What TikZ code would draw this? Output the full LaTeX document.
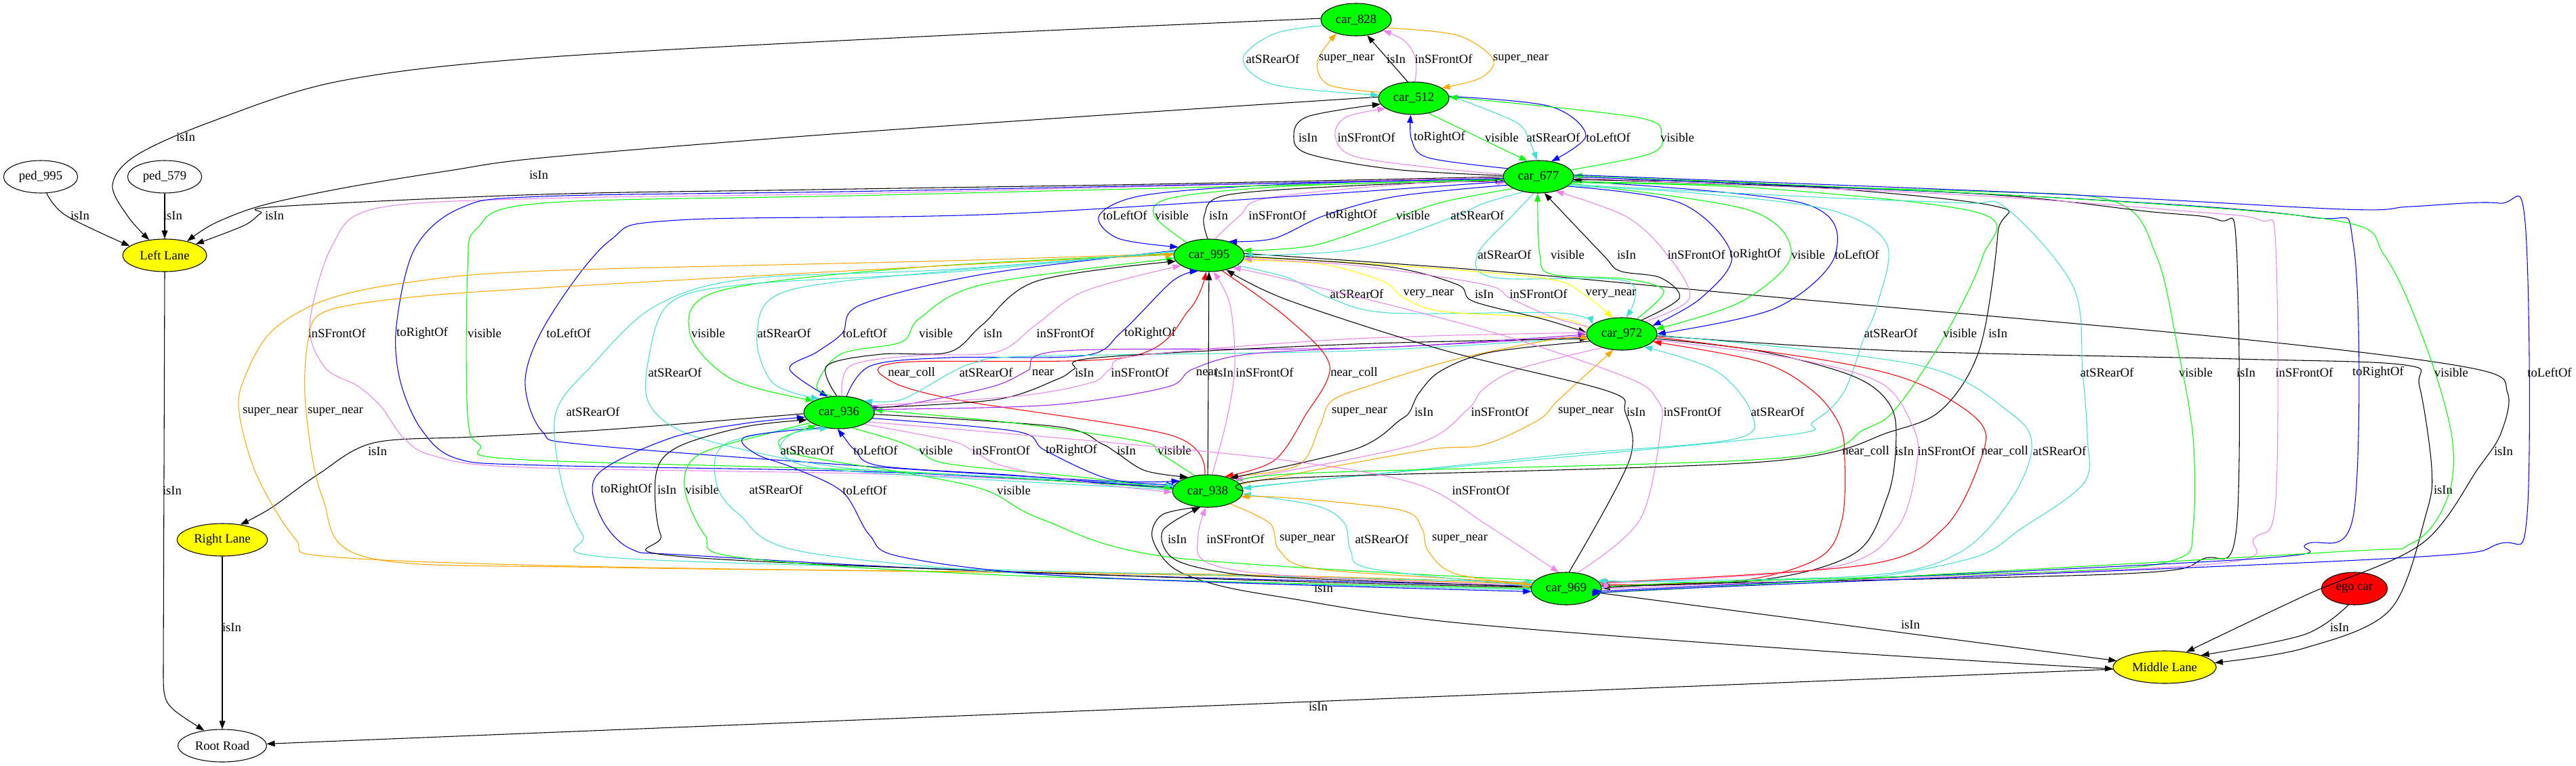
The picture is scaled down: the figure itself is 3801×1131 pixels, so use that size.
\documentclass[tikz,border=0pt]{standalone}
\usepackage{fontspec}
\setmainfont{Liberation Serif}
\usetikzlibrary{shapes.geometric,arrows.meta}
\definecolor{gvgreen}{HTML}{00FF00}
\definecolor{gvturq}{HTML}{40E0D0}
\definecolor{gvviolet}{HTML}{EE82EE}
\definecolor{gvorange}{HTML}{FFA500}
\definecolor{gvblue}{HTML}{0000FF}
\definecolor{gvred}{HTML}{FF0000}
\definecolor{gvyellow}{HTML}{FFFF00}
\definecolor{gvpurple}{HTML}{A020F0}
\newcommand\gedge[5]{\draw[ed,#1] plot coordinates {#2};\node[lbl] (#3) at (#4) {#5};}
\begin{document}
\begin{tikzpicture}[x=0.75pt,y=-0.75pt,
  every node/.style={font=\fontsize{14pt}{16pt}\selectfont},
  ed/.style={line width=0.8pt,-{Triangle[length=9pt,width=6.5pt]},smooth,tension=0.55},
  lbl/.style={inner sep=0pt},
  nd/.style={ellipse,draw,line width=0.8pt,minimum height=36pt,inner sep=0pt},
  car/.style={nd,fill=gvgreen,minimum width=78pt},
  lane/.style={nd,fill=gvyellow},
  plainnd/.style={nd,fill=white}]
\useasboundingbox (0,0) rectangle (3801,1131);
% nodes
\node[car] (n828) at (2001,29) {car\_828};
\node[car] (n512) at (2086,145) {car\_512};
\node[car] (n677) at (2270,261) {car\_677};
\node[car] (n995) at (1784,377) {car\_995};
\node[car] (n972) at (2393,493) {car\_972};
\node[car] (n936) at (1238,609) {car\_936};
\node[car] (n938) at (1782,725) {car\_938};
\node[car] (n969) at (2311,869) {car\_969};
\node[nd,fill=gvred,minimum width=73pt] (ego) at (3474,869) {ego car};
\node[lane,minimum width=114pt] (ML) at (3194,985) {Middle Lane};
\node[lane,minimum width=93pt] (LL) at (243,377) {Left Lane};
\node[lane,minimum width=100pt] (RL) at (328,797) {Right Lane};
\node[plainnd,minimum width=98pt] (RR) at (328,1101) {Root Road};
\node[plainnd,minimum width=82pt] (p995) at (60,261) {ped\_995};
\node[plainnd,minimum width=82pt] (p579) at (243,261) {ped\_579};
% lane membership
\gedge{black}{(p995.-70) (97,318) (LL.165)}{l1}{118,318}{isIn}
\draw[ed] (p579) -- (LL); \node[lbl] (l2) at (255,318) {isIn};
\gedge{black}{(n828.178) (1400,52) (800,85) (500,120) (311,180) (200,230) (166,273) (189,320) (LL.135)}{l3}{274,202}{isIn}
\gedge{black}{(n512.178) (1700,165) (1200,200) (800,233) (663,252) (510,277) (388,303) (316,330) (LL.32)}{l4}{795,258}{isIn}
\gedge{black}{(n677.180) (1700,272) (1200,280) (800,287) (410,305) (385,315) (360,333) (LL.20)}{l5}{405,318}{isIn}
\draw[ed] (LL.-90) -- (241,990) .. controls (241,1040) .. (RR.140); \node[lbl] (l6) at (254,724) {isIn};
\draw[ed] (RL) -- (RR); \node[lbl] (l7) at (342,926) {isIn};
\gedge{black}{(n936.182) (900,634) (700,645) (551,654) (470,700) (400,750) (RL.40)}{l8}{557,666}{isIn}
\draw[ed] (n969) -- (ML); \node[lbl] (l9) at (2819,922) {isIn};
\gedge{black}{(ego.-110) (3400,937) (ML.18)}{l10}{3452,926}{isIn}
\gedge{black}{(n938.-120) (1715,760) (1700,793) (1729,837) (1793,863) (1900,883) (2155,920) (2700,962) (ML.182)}{l11}{1953,868}{isIn}
\gedge{black}{(n995.3) (2200,400) (2600,437) (3300,500) (3649,544) (3700,580) (3690,640) (3657,691) (3573,803) (3404,878) (ML.35)}{l12}{3694,666}{isIn}
\gedge{black}{(n972.-3) (2800,518) (3300,530) (3549,539) (3570,570) (3588,691) (3580,758) (3527,900) (3400,957) (ML.5)}{l13}{3605,723}{isIn}
\draw[ed] (ML) -- (RR); \node[lbl] (l14) at (1945,1043) {isIn};
% 828 - 512
\draw[ed] (n512.110) -- (n828.-55); \node[lbl] (l15) at (2060,87) {isIn};
\gedge{gvviolet}{(n512.85) (2089,87) (2072,60) (n828.-22)}{l16}{2130,87}{inSFrontOf}
\gedge{gvturq}{(n828.190) (1880,50) (1834,87) (1880,125) (n512.175)}{l17}{1878,87}{atSRearOf}
\gedge{gvorange}{(n512.170) (1960,125) (1944,90) (n828.-145)}{l18}{1987,87}{super\_near}
\gedge{gvorange}{(n828.-15) (2150,52) (2203,87) (2185,115) (n512.20)}{l19}{2244,87}{super\_near}
% 512 - 677
\gedge{black}{(n677.178) (2057,250) (1930,227) (1909,200) (1930,172) (n512.190)}{l20}{1930,203}{isIn}
\gedge{gvviolet}{(n677.176) (2108,247) (1996,230) (1970,200) (1986,173) (n512.200)}{l21}{2016,203}{inSFrontOf}
\gedge{gvblue}{(n677.165) (2108,233) (2083,207) (n512.-100)}{l22}{2124,203}{toRightOf}
\draw[ed,gvgreen] (n512.-45) -- (n677.125); \node[lbl] (l23) at (2216,203) {visible};
\gedge{gvturq}{(n512.5) (2236,180) (2256,207) (n677.95)}{l24}{2292,203}{atSRearOf}
\gedge{gvblue}{(n512.3) (2287,157) (2340,200) (n677.50)}{l25}{2373,203}{toLeftOf}
\gedge{gvgreen}{(n677.12) (2435,227) (2452,200) (2414,173) (n512.2)}{l26}{2475,203}{visible}
% 677 - 995
\gedge{gvblue}{(n677.183) (1900,272) (1690,288) (1622,318) (1650,352) (n995.165)}{l27}{1660,318}{toLeftOf}
\gedge{gvgreen}{(n995.150) (1703,318) (1730,292) (1900,275) (n677.184)}{l28}{1729,318}{visible}
\gedge{black}{(n995.95) (1777,318) (1810,288) (2000,274) (n677.186)}{l29}{1798,318}{isIn}
\gedge{gvviolet}{(n995.70) (1830,318) (1872,292) (2100,270) (n677.190)}{l30}{1885,318}{inSFrontOf}
\gedge{gvblue}{(n677.195) (2060,290) (1955,318) (1880,352) (n995.35)}{l31}{1994,318}{toRightOf}
\gedge{gvgreen}{(n677.205) (2130,298) (2058,322) (1940,362) (n995.8)}{l32}{2085,318}{visible}
\gedge{gvturq}{(n677.225) (2190,300) (2140,322) (2000,368) (n995.0)}{l33}{2180,318}{atSRearOf}
% 677 - 972
\gedge{gvturq}{(n677.-105) (2230,320) (2180,376) (2205,410) (2400,415) (n972.75)}{l34}{2220,376}{atSRearOf}
\gedge{gvgreen}{(n972.45) (2455,430) (2400,412) (2290,405) (2272,376) (n677.-93)}{l35}{2313,376}{visible}
\gedge{black}{(n972.35) (2478,440) (2450,410) (2390,400) (2365,376) (n677.-70)}{l36}{2400,376}{isIn}
\gedge{gvviolet}{(n972.28) (2493,440) (2460,376) (2400,320) (n677.-40)}{l37}{2503,376}{inSFrontOf}
\gedge{gvblue}{(n677.-18) (2480,300) (2555,376) (2510,440) (n972.15)}{l38}{2590,376}{toRightOf}
\gedge{gvgreen}{(n677.-12) (2580,310) (2643,376) (2570,445) (n972.8)}{l39}{2668,376}{visible}
\gedge{gvblue}{(n677.-7) (2660,300) (2708,376) (2620,455) (n972.0)}{l40}{2740,376}{toLeftOf}
% 995 - 972
\gedge{gvturq}{(n995.-20) (1900,410) (1962,440) (2050,462) (2300,462) (n972.162)}{l41}{2002,434}{atSRearOf}
\gedge{gvyellow}{(n972.172) (2300,470) (2130,460) (2072,440) (2040,415) (1950,390) (n995.-8)}{l42}{2108,434}{very\_near}
\gedge{gvyellow}{(n995.-4) (2000,388) (2272,410) (2335,433) (n972.120)}{l43}{2377,434}{very\_near}
\gedge{black}{(n995.-2) (2043,393) (2150,420) (2174,445) (2280,472) (n972.178)}{l44}{2190,434}{isIn}
\gedge{gvviolet}{(n972.168) (2290,468) (2228,440) (2190,420) (2000,392) (n995.-6)}{l45}{2270,434}{inSFrontOf}
% 995 - 936
\gedge{gvgreen}{(n995.178) (1350,395) (1060,430) (1018,492) (1080,560) (n936.155)}{l46}{1045,492}{visible}
\gedge{gvturq}{(n995.176) (1400,400) (1160,430) (1117,492) (1140,565) (n936.145)}{l47}{1157,492}{atSRearOf}
\gedge{gvblue}{(n995.172) (1450,405) (1270,450) (1243,492) (1205,520) (1165,545) (n936.125)}{l48}{1276,492}{toLeftOf}
\gedge{gvgreen}{(n936.112) (1205,570) (1240,523) (1330,505) (1357,470) (1450,420) (n995.185)}{l49}{1381,492}{visible}
\gedge{black}{(n936.98) (1220,540) (1300,523) (1400,520) (1449,480) (1530,415) (n995.190)}{l50}{1465,492}{isIn}
\gedge{gvviolet}{(n936.80) (1255,540) (1350,525) (1470,520) (1528,480) (1600,430) (n995.200)}{l51}{1572,492}{inSFrontOf}
\gedge{gvblue}{(n936.65) (1285,540) (1400,528) (1600,525) (1655,490) (1730,415) (n995.-125)}{l52}{1697,492}{toRightOf}
% 677 - 938 (long left)
\gedge{gvviolet}{(n677.181) (1300,285) (800,293) (554,308) (490,363) (457,480) (480,543) (528,570) (562,600) (596,647) (640,673) (771,690) (1300,700) (n938.172)}{l53}{497,492}{inSFrontOf}
\gedge{gvblue}{(n677.183) (1300,282) (800,290) (680,307) (612,367) (585,480) (590,560) (621,633) (674,677) (800,687) (1300,697) (n938.174)}{l54}{623,492}{toRightOf}
\gedge{gvgreen}{(n677.185) (1300,288) (800,300) (704,337) (690,400) (690,613) (708,657) (760,678) (1300,695) (n938.176)}{l55}{715,492}{visible}
\gedge{gvblue}{(n677.188) (1500,315) (1000,325) (900,355) (810,470) (775,560) (800,637) (868,657) (1300,690) (n938.170)}{l56}{839,492}{toLeftOf}
% 995 - 969 (long left)
\gedge{gvorange}{(n995.177) (1400,385) (800,400) (602,417) (480,443) (400,490) (360,560) (353,610) (379,702) (436,796) (488,822) (900,837) (1800,850) (n969.173)}{l57}{399,608}{super\_near}
\gedge{gvorange}{(n969.171) (1800,848) (900,838) (542,823) (476,735) (451,600) (455,500) (480,460) (596,440) (800,425) (1400,392) (n995.179)}{l58}{495,608}{super\_near}
\gedge{gvturq}{(n995.174) (1400,398) (1100,412) (965,453) (873,540) (820,610) (829,713) (860,790) (900,823) (1500,842) (n969.169)}{l59}{875,608}{atSRearOf}
\gedge{gvturq}{(n995.173) (1400,402) (1100,420) (989,447) (957,530) (960,600) (1033,647) (1240,690) (1500,705) (n938.171)}{l60}{996,550}{atSRearOf}
% 936 - 969
\gedge{gvblue}{(n969.176) (1500,845) (1020,820) (930,810) (885,760) (882,700) (989,647) (1100,625) (n936.188)}{l61}{924,723}{toRightOf}
\gedge{black}{(n969.178) (1800,855) (1021,823) (975,790) (968,700) (1000,660) (1100,630) (n936.193)}{l62}{984,723}{isIn}
\gedge{gvgreen}{(n936.200) (1134,640) (1030,672) (1010,720) (1040,790) (1091,823) (1500,850) (n969.180)}{l63}{1036,723}{visible}
\gedge{gvturq}{(n936.210) (1071,655) (1057,713) (1091,760) (1187,815) (1600,852) (n969.182)}{l64}{1145,723}{atSRearOf}
\gedge{gvblue}{(n936.-135) (1100,645) (1115,670) (1174,692) (1244,727) (1283,790) (1334,823) (1600,852) (n969.185)}{l65}{1276,724}{toLeftOf}
\gedge{gvgreen}{(n969.165) (1729,823) (1538,767) (1455,724) (1346,700) (1180,672) (1150,650) (n936.-150)}{l66}{1496,724}{visible}
% 936 - 938
\gedge{gvturq}{(n938.178) (1400,705) (1200,690) (1152,665) (1170,640) (n936.-125)}{l67}{1191,665}{atSRearOf}
\gedge{gvblue}{(n938.176) (1500,702) (1300,688) (1262,665) (1245,645) (n936.-95)}{l68}{1292,665}{toLeftOf}
\gedge{gvgreen}{(n936.-50) (1320,650) (1356,665) (1400,685) (1600,705) (n938.177)}{l69}{1381,665}{visible}
\gedge{gvviolet}{(n936.-25) (1400,650) (1435,665) (1480,688) (1600,712) (n938.182)}{l70}{1477,665}{inSFrontOf}
\gedge{gvblue}{(n936.-10) (1500,637) (1542,665) (1640,708) (n938.160)}{l71}{1581,665}{toRightOf}
\gedge{black}{(n936.-3) (1560,630) (1625,655) (1647,668) (1690,695) (n938.145)}{l72}{1662,665}{isIn}
\gedge{gvgreen}{(n938.130) (1710,668) (1684,652) (1500,625) (n936.4)}{l73}{1733,665}{visible}
% row 550
\gedge{gvred}{(n938.100) (1729,643) (1410,590) (1310,560) (1330,535) (1665,527) (1755,457) (n995.-100)}{l74}{1345,550}{near\_coll}
\gedge{gvturq}{(n972.186) (2000,518) (1520,526) (1440,535) (1400,552) (1330,590) (n936.25)}{l75}{1455,550}{atSRearOf}
\gedge{gvpurple}{(n972.184) (2000,514) (1570,518) (1515,548) (1460,572) (1320,600) (n936.15)}{l76}{1539,550}{near}
\gedge{black}{(n936.8) (1470,590) (1560,560) (1585,545) (1620,528) (2000,508) (n972.188)}{l77}{1600,550}{isIn}
\gedge{gvviolet}{(n936.12) (1500,585) (1610,565) (1638,545) (1680,525) (2000,500) (n972.178)}{l78}{1682,550}{inSFrontOf}
\gedge{gvpurple}{(n936.5) (1550,598) (1720,572) (1760,545) (1850,522) (2100,510) (n972.181)}{l79}{1781,550}{near}
\draw[ed] (n938) -- (n995); \node[lbl] (l80) at (1806,550) {isIn};
\gedge{gvviolet}{(n938.75) (1810,620) (1822,540) (1815,450) (n995.-75)}{l81}{1866,550}{inSFrontOf}
\gedge{gvred}{(n995.-50) (1900,470) (1962,540) (1925,615) (1880,680) (n938.40)}{l82}{1998,550}{near\_coll}
% row 608
\gedge{gvorange}{(n938.35) (1915,687) (1947,630) (1965,592) (2025,568) (2150,530) (2300,500) (n972.190)}{l83}{2006,608}{super\_near}
\gedge{black}{(n972.193) (2200,520) (2127,547) (2094,580) (2080,608) (2066,620) (2000,663) (n938.30)}{l84}{2101,608}{isIn}
\gedge{gvviolet}{(n972.215) (2240,545) (2188,575) (2165,605) (2086,657) (n938.22)}{l85}{2213,608}{inSFrontOf}
\gedge{gvorange}{(n938.12) (2100,665) (2188,657) (2270,620) (2300,590) (n972.-118)}{l86}{2340,608}{super\_near}
\gedge{black}{(n969.80) (2404,680) (2398,608) (2371,577) (2130,517) (1900,443) (n995.-40)}{l87}{2414,608}{isIn}
\gedge{gvviolet}{(n969.55) (2420,767) (2451,630) (2445,590) (2400,557) (2190,487) (1900,413) (n995.-28)}{l88}{2497,608}{inSFrontOf}
\gedge{gvturq}{(n938.6) (1950,708) (2300,672) (2560,648) (2583,607) (2531,547) (n972.-30)}{l89}{2623,608}{atSRearOf}
\gedge{gvturq}{(n677.-17) (2500,285) (2700,310) (2784,360) (2770,450) (2750,500) (2720,580) (2675,623) (2617,645) (2000,703) (n938.4)}{l90}{2790,492}{atSRearOf}
\gedge{gvgreen}{(n677.-10) (2600,278) (2922,315) (2925,380) (2870,495) (2800,600) (2753,633) (2617,677) (1900,700) (n938.2)}{l91}{2892,492}{visible}
\gedge{black}{(n938.0) (1900,706) (2600,682) (2791,637) (2868,602) (2922,512) (2948,343) (2937,303) (2600,271) (n677.-5)}{l92}{2948,492}{isIn}
\gedge{gvviolet}{(n936.-18) (1600,650) (1900,680) (2091,715) (2197,777) (n969.115)}{l93}{2185,724}{inSFrontOf}
% 972 - 969
\gedge{gvred}{(n969.6) (2570,857) (2685,823) (2718,767) (2722,680) (2715,629) (2677,579) (2600,535) (n972.-14)}{l94}{2753,666}{near\_coll}
\gedge{black}{(n972.-8) (2600,519) (2738,557) (2791,602) (2797,666) (2784,736) (2738,816) (2600,856) (n969.4)}{l95}{2810,666}{isIn}
\gedge{gvviolet}{(n972.-10) (2650,530) (2776,566) (2822,629) (2829,680) (2799,780) (2700,838) (n969.8)}{l96}{2872,666}{inSFrontOf}
\gedge{gvred}{(n972.-5) (2700,533) (2830,566) (2922,624) (2922,680) (2868,780) (2753,834) (n969.10)}{l97}{2958,666}{near\_coll}
\gedge{gvturq}{(n972.-2) (2830,539) (2968,611) (2998,660) (2968,736) (2891,816) (2753,850) (n969.12)}{l98}{3039,666}{atSRearOf}
% 677 - 969 (right side)
\gedge{gvturq}{(n677.-14) (2700,292) (2900,300) (2960,307) (3059,423) (3073,550) (3080,646) (3075,713) (2983,780) (2906,825) (2700,858) (n969.14)}{l99}{3109,550}{atSRearOf}
\gedge{gvgreen}{(n677.-8) (2900,282) (3121,298) (3182,378) (3213,512) (3236,646) (3236,780) (3213,825) (3059,843) (2500,860) (n969.2)}{l100}{3240,550}{visible}
\gedge{black}{(n677.-4) (2900,285) (3167,312) (3274,325) (3300,365) (3300,780) (3251,825) (3136,847) (2500,862) (n969.0)}{l101}{3314,550}{isIn}
\gedge{gvviolet}{(n677.-2) (2900,288) (3228,312) (3335,325) (3358,365) (3358,736) (3327,794) (3251,834) (2500,864) (n969.-2)}{l102}{3400,550}{inSFrontOf}
\gedge{gvblue}{(n677.0) (3000,290) (3404,320) (3473,365) (3473,758) (3404,803) (3327,825) (2500,866) (n969.-4)}{l103}{3509,550}{toRightOf}
\gedge{gvgreen}{(n969.-6) (2500,868) (3427,816) (3557,803) (3611,736) (3618,646) (3580,512) (3519,378) (3443,325) (3000,290) (n677.2)}{l104}{3617,550}{visible}
\gedge{gvblue}{(n677.3) (3000,285) (3458,309) (3557,305) (3687,300) (3726,329) (3729,758) (3687,803) (3519,825) (2500,868) (n969.-8)}{l105}{3762,550}{toLeftOf}
% 938 - 969
\gedge{black}{(n969.177) (1900,853) (1793,843) (1729,823) (1716,783) (n938.-115)}{l106}{1737,796}{isIn}
\gedge{gvviolet}{(n969.175) (1900,850) (1780,830) (1768,790) (n938.-97)}{l107}{1823,796}{inSFrontOf}
\gedge{gvorange}{(n938.-30) (1874,773) (1888,813) (1943,840) (2200,858) (n969.179)}{l108}{1929,796}{super\_near}
\gedge{gvturq}{(n969.176) (2025,840) (1993,813) (1984,773) (1943,747) (n938.-5)}{l109}{2039,796}{atSRearOf}
\gedge{gvorange}{(n969.174) (2147,847) (2107,813) (2098,780) (2066,753) (1900,735) (n938.-10)}{l110}{2154,796}{super\_near}
\end{tikzpicture}
\end{document}
